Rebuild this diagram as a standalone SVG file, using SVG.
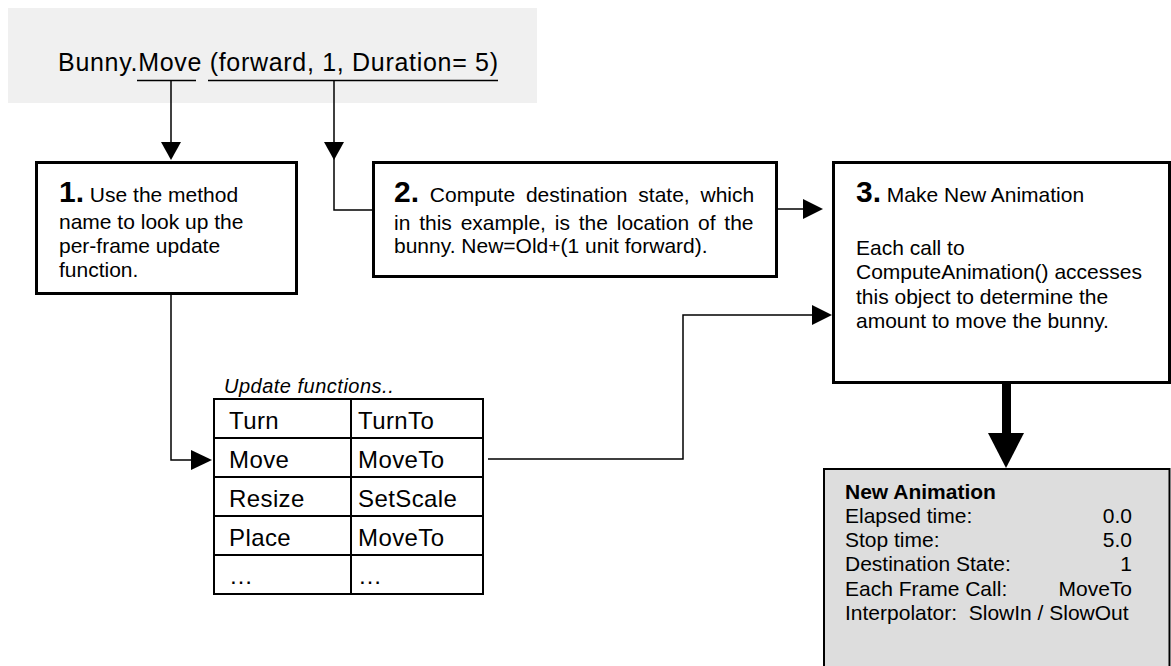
<svg xmlns="http://www.w3.org/2000/svg" width="1171" height="666" viewBox="0 0 1171 666">
<defs>
<style>
.t{font-family:"Liberation Sans",Arial,sans-serif;font-size:21px;fill:#000}
.num{font-weight:bold;font-size:30px}
.b{font-weight:bold}
.box{fill:#fff;stroke:#000;stroke-width:3}
.conn{fill:none;stroke:#000;stroke-width:1.5}
.tl{stroke:#000;stroke-width:2;fill:none}
.tc{font-size:24px;letter-spacing:0.4px}
.ah{fill:#000;stroke:none}
</style>
</defs>
<rect x="0" y="0" width="1171" height="666" fill="#fff"/>

<g id="call">
<rect x="8" y="8" width="529" height="95" fill="#f0f0f0"/>
<text class="t" x="58" y="71" style="font-size:25px" textLength="440" lengthAdjust="spacing">Bunny.Move (forward, 1, Duration= 5)</text>
<line x1="137" y1="80.5" x2="196" y2="80.5" stroke="#000" stroke-width="1.5"/>
<line x1="208" y1="80.5" x2="498" y2="80.5" stroke="#000" stroke-width="1.5"/>
</g>

<g id="connectors">
<path class="conn" d="M171 80.5 V145"/>
<polygon class="ah" points="161,142 181,142 171,160"/>
<path class="conn" d="M334 80.5 V210 H373"/>
<polygon class="ah" points="324,142 344,142 334,160"/>
<path class="conn" d="M777 209 H805"/>
<polygon class="ah" points="803,199 803,219 823,209"/>
<path class="conn" d="M171 294 V460 H192"/>
<polygon class="ah" points="191,450 191,470 212,460"/>
<path class="conn" d="M488 459 H683 V315 H815"/>
<polygon class="ah" points="812,305 812,325 832,315"/>
<rect x="1002" y="383" width="9" height="52" fill="#000"/>
<polygon class="ah" points="988,433 1024,433 1006,468"/>
</g>

<g id="step1">
<rect class="box" x="36.5" y="162.5" width="260" height="131"/>
<text class="t" x="59" y="202"><tspan class="num">1.</tspan> Use the method</text>
<text class="t" x="59" y="229">name to look up the</text>
<text class="t" x="59" y="253">per-frame update</text>
<text class="t" x="59" y="277">function.</text>
</g>

<g id="step2">
<rect class="box" x="373.5" y="162.5" width="403" height="114"/>
<text class="t" x="394" y="202" word-spacing="5"><tspan class="num">2.</tspan> Compute destination state, which</text>
<text class="t" x="394" y="230" word-spacing="3">in this example, is the location of the</text>
<text class="t" x="394" y="253">bunny. New=Old+(1 unit forward).</text>
</g>

<g id="step3">
<rect class="box" x="833.5" y="162.5" width="336" height="220"/>
<text class="t" x="856" y="202"><tspan class="num">3.</tspan> Make New Animation</text>
<text class="t" x="856" y="255">Each call to</text>
<text class="t" x="856" y="279">ComputeAnimation() accesses</text>
<text class="t" x="856" y="304">this object to determine the</text>
<text class="t" x="856" y="328">amount to move the bunny.</text>
</g>

<g id="table">
<text class="t" x="224" y="393" font-style="italic" style="font-size:20px;letter-spacing:0.5px">Update functions..</text>
<rect class="tl" x="214" y="399" width="269" height="195" fill="#fff"/>
<line class="tl" x1="351" y1="399" x2="351" y2="594"/>
<line class="tl" x1="214" y1="438" x2="483" y2="438"/>
<line class="tl" x1="214" y1="477" x2="483" y2="477"/>
<line class="tl" x1="214" y1="516" x2="483" y2="516"/>
<line class="tl" x1="214" y1="555" x2="483" y2="555"/>
<text class="t tc" x="229" y="428.5">Turn</text>
<text class="t tc" x="358" y="428.5">TurnTo</text>
<text class="t tc" x="229" y="467.5">Move</text>
<text class="t tc" x="358" y="467.5">MoveTo</text>
<text class="t tc" x="229" y="506.5">Resize</text>
<text class="t tc" x="358" y="506.5">SetScale</text>
<text class="t tc" x="229" y="545.5">Place</text>
<text class="t tc" x="358" y="545.5">MoveTo</text>
<text class="t tc" x="229" y="584">…</text>
<text class="t tc" x="358" y="584">…</text>
</g>

<g id="anim">
<rect x="824" y="469" width="345.5" height="210" fill="#dddddd" stroke="#000" stroke-width="2"/>
<text class="t b" x="845" y="499">New Animation</text>
<text class="t" x="845" y="523">Elapsed time:</text>
<text class="t" x="1132" y="523" text-anchor="end">0.0</text>
<text class="t" x="845" y="547">Stop time:</text>
<text class="t" x="1132" y="547" text-anchor="end">5.0</text>
<text class="t" x="845" y="571">Destination State:</text>
<text class="t" x="1132" y="571" text-anchor="end">1</text>
<text class="t" x="845" y="596">Each Frame Call:</text>
<text class="t" x="1132" y="596" text-anchor="end">MoveTo</text>
<text class="t" x="845" y="620">Interpolator:&#160; SlowIn / SlowOut</text>
</g>
</svg>
